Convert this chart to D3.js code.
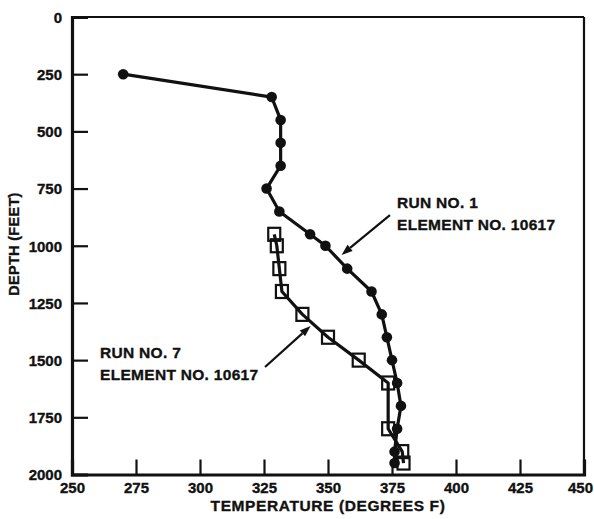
<!DOCTYPE html>
<html>
<head>
<meta charset="utf-8">
<script src="https://cdn.jsdelivr.net/npm/d3@7"></script>
<style>
  html, body { margin: 0; padding: 0; background: #fff; }
  svg { display: block; }
  text { font-family: "Liberation Sans", Arial, Helvetica, sans-serif; font-weight: bold; fill: #111; stroke: #111; stroke-width: 0.35px; }
</style>
</head>
<body>
<svg id="chart" width="594" height="519"></svg>
<script>
// ---- data ----
const run1Depth = [250, 350, 450, 550, 650, 750, 850, 950, 1000, 1100, 1200, 1300, 1400, 1500, 1600, 1700, 1800, 1900, 1950];
const run1Temp  = [270, 328, 331.5, 331.5, 331.5, 326, 331, 343, 349, 357.5, 367, 371, 373, 375, 377, 378.5, 377, 376, 376];
const run7Depth = [950, 1000, 1100, 1200, 1300, 1400, 1500, 1600, 1800, 1900, 1950];
const run7Temp  = [329, 330, 331, 332, 340, 350, 362, 373.5, 373.5, 379, 379.5];
const xTicks = [250, 275, 300, 325, 350, 375, 400, 425, 450];
const yTicks = [0, 250, 500, 750, 1000, 1250, 1500, 1750, 2000];
const xTitle = "TEMPERATURE (DEGREES F)";
const yTitle = "DEPTH (FEET)";
const labelRun1 = ["RUN NO. 1", "ELEMENT NO. 10617"];
const labelRun7 = ["RUN NO. 7", "ELEMENT NO. 10617"];
// annotation arrows in data units: [tailTemp, tailDepth, tipTemp, tipDepth]
const arrowRun1 = [374.2, 866, 355.3, 1040];
const arrowRun7 = [325.4, 1530, 343.2, 1351];

// ---- layout ----
const svg = d3.select("#chart");
const x = d3.scaleLinear().domain([250, 450]).range([72, 584]);
const y = d3.scaleLinear().domain([0, 2000]).range([17, 474.5]);
const ink = "#111";

// frame: top and right thin, left and bottom heavy
svg.append("line").attr("x1", x(250)).attr("x2", x(450)).attr("y1", y(0)).attr("y2", y(0))
  .attr("stroke", ink).attr("stroke-width", 2);
svg.append("line").attr("x1", x(450)).attr("x2", x(450)).attr("y1", y(0)).attr("y2", y(2000))
  .attr("stroke", ink).attr("stroke-width", 2.2);

// axes with inward ticks
const xAxis = d3.axisBottom(x).tickValues(xTicks).tickSize(-15).tickPadding(8).tickFormat(d3.format("d"));
const gx = svg.append("g").attr("transform", `translate(0,${y(2000)})`).call(xAxis);
gx.select(".domain").attr("stroke", ink).attr("stroke-width", 3.2);
gx.selectAll(".tick line").attr("stroke", ink).attr("stroke-width", 2.2)
  .filter(d => d === 250 || d === 450).remove();
gx.selectAll(".tick text").attr("font-size", 15).attr("font-family", "Liberation Sans, Arial, sans-serif")
  .attr("font-weight", "bold").attr("fill", ink).attr("dy", "0.71em")
  .attr("dx", d => d === 450 ? -4 : 0);

const yAxis = d3.axisLeft(y).tickValues(yTicks).tickSize(-16).tickPadding(10).tickFormat(d3.format("d"));
const gy = svg.append("g").attr("transform", `translate(${x(250)},0)`).call(yAxis);
gy.select(".domain").attr("stroke", ink).attr("stroke-width", 3.2);
gy.selectAll(".tick line").attr("stroke", ink).attr("stroke-width", 2.2)
  .filter(d => d === 0 || d === 2000).remove();
gy.selectAll(".tick text").attr("font-size", 15).attr("font-family", "Liberation Sans, Arial, sans-serif")
  .attr("font-weight", "bold").attr("fill", ink).attr("dy", "0.36em");

// axis titles
svg.append("text").attr("x", 328).attr("y", 511).attr("text-anchor", "middle")
  .attr("font-size", 15.5).attr("letter-spacing", 0.6).text(xTitle);
svg.append("text").attr("transform", "translate(19,244) rotate(-90)").attr("text-anchor", "middle")
  .attr("font-size", 14.5).attr("letter-spacing", 0.3).text(yTitle);

// series
const line = d3.line().x(d => x(d.t)).y(d => y(d.d));
const run1 = run1Depth.map((d, i) => ({ d, t: run1Temp[i] }));
const run7 = run7Depth.map((d, i) => ({ d, t: run7Temp[i] }));

svg.append("path").datum(run7).attr("d", line).attr("fill", "none")
  .attr("stroke", ink).attr("stroke-width", 3.2).attr("stroke-linejoin", "round");
svg.append("path").datum(run1).attr("d", line).attr("fill", "none")
  .attr("stroke", ink).attr("stroke-width", 3.2).attr("stroke-linejoin", "round");

svg.append("g").selectAll("circle").data(run1).join("circle")
  .attr("cx", d => x(d.t)).attr("cy", d => y(d.d)).attr("r", 5.3).attr("fill", ink);

svg.append("g").selectAll("rect").data(run7).join("rect")
  .attr("x", d => x(d.t) - 6).attr("y", d => y(d.d) - 6.5)
  .attr("width", 12).attr("height", 13)
  .attr("fill", "none").attr("stroke", ink).attr("stroke-width", 2.2);

// annotations
function arrow(a) {
  const x1 = x(a[0]), y1 = y(a[1]), x2 = x(a[2]), y2 = y(a[3]);
  const ang = Math.atan2(y2 - y1, x2 - x1);
  const len = 11, w = 4;
  const bx = x2 - len * Math.cos(ang), by = y2 - len * Math.sin(ang);
  svg.append("line").attr("x1", x1).attr("y1", y1).attr("x2", bx).attr("y2", by)
    .attr("stroke", ink).attr("stroke-width", 2.2);
  const p = [[x2, y2],
    [bx + w * Math.sin(ang), by - w * Math.cos(ang)],
    [bx - w * Math.sin(ang), by + w * Math.cos(ang)]];
  svg.append("path").attr("d", "M" + p.map(q => q.join(",")).join("L") + "Z").attr("fill", ink);
}
arrow(arrowRun1);
arrow(arrowRun7);

function label(lines, px, py) {
  lines.forEach((s, i) => {
    svg.append("text").attr("x", px).attr("y", py + i * 22).attr("font-size", 15.5)
      .attr("letter-spacing", 0.3).text(s);
  });
}
label(labelRun1, 397, 208);
label(labelRun7, 100, 358);
</script>
</body>
</html>
